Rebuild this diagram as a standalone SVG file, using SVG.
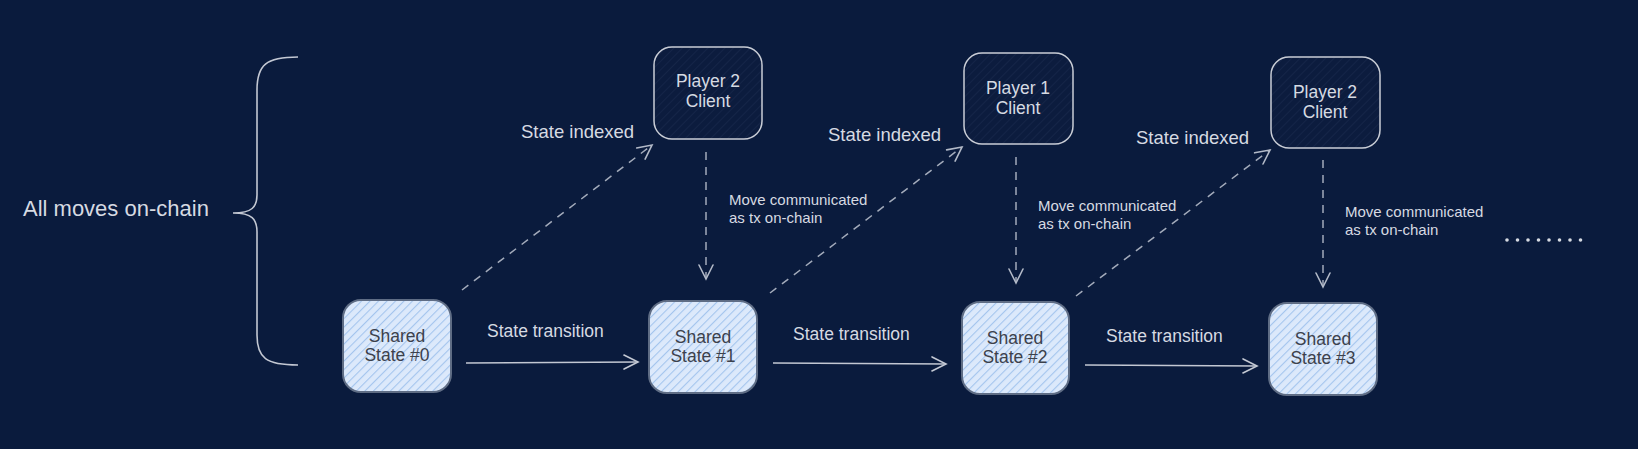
<svg xmlns="http://www.w3.org/2000/svg" width="1638" height="449" viewBox="0 0 1638 449">
<defs>
<pattern id="hatchLight" patternUnits="userSpaceOnUse" width="6" height="6" patternTransform="rotate(45)">
<rect width="6" height="6" fill="#dce9fb"/>
<line x1="0" y1="0" x2="0" y2="6" stroke="#a4c5ee" stroke-width="2.2"/>
</pattern>
<pattern id="hatchDark" patternUnits="userSpaceOnUse" width="6" height="6" patternTransform="rotate(45)">
<rect width="6" height="6" fill="#0c1c3e"/>
<line x1="0" y1="0" x2="0" y2="6" stroke="#17284b" stroke-width="1.5"/>
</pattern>
<marker id="arrSolid" markerUnits="userSpaceOnUse" markerWidth="20" markerHeight="20" refX="16" refY="8" orient="auto">
<path d="M2,1 L16,8 L2,15" fill="none" stroke="#c3c8d3" stroke-width="1.6" stroke-linecap="round"/>
</marker>
<marker id="arrDash" markerUnits="userSpaceOnUse" markerWidth="20" markerHeight="20" refX="16" refY="8" orient="auto">
<path d="M2,1 L16,8 L2,15" fill="none" stroke="#b3bac8" stroke-width="1.6" stroke-linecap="round"/>
</marker>
</defs>
<style>
.lbl{font-family:"Liberation Sans",Arial,sans-serif;fill:#d6dae2}
.state rect{fill:url(#hatchLight);stroke:#5f6d85;stroke-width:2}
.state text{font-family:"Liberation Sans",Arial,sans-serif;font-size:17.5px;fill:#3c414c;text-anchor:middle}
.player rect{fill:url(#hatchDark);stroke:#c9cdd6;stroke-width:1.5}
.player text{font-family:"Liberation Sans",Arial,sans-serif;font-size:17.5px;fill:#d6dae2;text-anchor:middle}
.solid{fill:none;stroke:#c3c8d3;stroke-width:1.6;marker-end:url(#arrSolid)}
.dash{fill:none;stroke:#a3abbb;stroke-width:1.5;stroke-dasharray:8 7;marker-end:url(#arrDash)}
</style>
<rect width="1638" height="449" fill="#0a1b3d"/>

<g id="brace">
<path d="M298,57 C266,57 257,65 257,90 L257,195 C257,207 252,213 233,213 C252,213 257,219 257,232 L257,335 C257,358 266,365 298,365" fill="none" stroke="#c3c8d3" stroke-width="1.6"/>
<text class="lbl" x="23" y="216" font-size="22">All moves on-chain</text>
</g>

<g id="connectors">
<path class="solid" d="M466,363 L638,362"/>
<path class="solid" d="M773,363 L946,364"/>
<path class="solid" d="M1085,365 L1257,366"/>
<path class="dash" d="M462,290 L652,145"/>
<path class="dash" d="M770,293 L962,147"/>
<path class="dash" d="M1076,296 L1270,150"/>
<path class="dash" d="M706,152 L706,279"/>
<path class="dash" d="M1016,157 L1016,283"/>
<path class="dash" d="M1323,160 L1323,287"/>
</g>

<g id="labels">
<text class="lbl" x="487" y="337" font-size="17.5">State transition</text>
<text class="lbl" x="793" y="340" font-size="17.5">State transition</text>
<text class="lbl" x="1106" y="342" font-size="17.5">State transition</text>
<text class="lbl" x="521" y="138" font-size="18.5">State indexed</text>
<text class="lbl" x="828" y="141" font-size="18.5">State indexed</text>
<text class="lbl" x="1136" y="144" font-size="18.5">State indexed</text>
<text class="lbl" x="729" y="205" font-size="15">Move communicated</text>
<text class="lbl" x="729" y="223" font-size="15">as tx on-chain</text>
<text class="lbl" x="1038" y="211" font-size="15">Move communicated</text>
<text class="lbl" x="1038" y="229" font-size="15">as tx on-chain</text>
<text class="lbl" x="1345" y="217" font-size="15">Move communicated</text>
<text class="lbl" x="1345" y="235" font-size="15">as tx on-chain</text>
<g fill="#d6dae2">
<circle cx="1507" cy="240" r="1.8"/><circle cx="1517.5" cy="240" r="1.8"/><circle cx="1528" cy="240" r="1.8"/><circle cx="1538.5" cy="240" r="1.8"/>
<circle cx="1549" cy="240" r="1.8"/><circle cx="1559.5" cy="240" r="1.8"/><circle cx="1570" cy="240" r="1.8"/><circle cx="1580.5" cy="240" r="1.8"/>
</g>
</g>

<g id="player2a" class="player">
<rect x="654" y="47" width="108" height="92" rx="18"/>
<text x="708" y="87">Player 2</text>
<text x="708" y="107">Client</text>
</g>
<g id="player1" class="player">
<rect x="964" y="53" width="109" height="91" rx="18"/>
<text x="1018" y="94">Player 1</text>
<text x="1018" y="114">Client</text>
</g>
<g id="player2b" class="player">
<rect x="1271" y="57" width="109" height="91" rx="18"/>
<text x="1325" y="98">Player 2</text>
<text x="1325" y="118">Client</text>
</g>

<g id="state0" class="state">
<rect x="343" y="300" width="108" height="92" rx="18"/>
<text x="397" y="342">Shared</text>
<text x="397" y="361">State #0</text>
</g>
<g id="state1" class="state">
<rect x="649" y="301" width="108" height="92" rx="18"/>
<text x="703" y="343">Shared</text>
<text x="703" y="362">State #1</text>
</g>
<g id="state2" class="state">
<rect x="962" y="302" width="107" height="92" rx="18"/>
<text x="1015" y="344">Shared</text>
<text x="1015" y="363">State #2</text>
</g>
<g id="state3" class="state">
<rect x="1269" y="303" width="108" height="92" rx="18"/>
<text x="1323" y="345">Shared</text>
<text x="1323" y="364">State #3</text>
</g>
</svg>
